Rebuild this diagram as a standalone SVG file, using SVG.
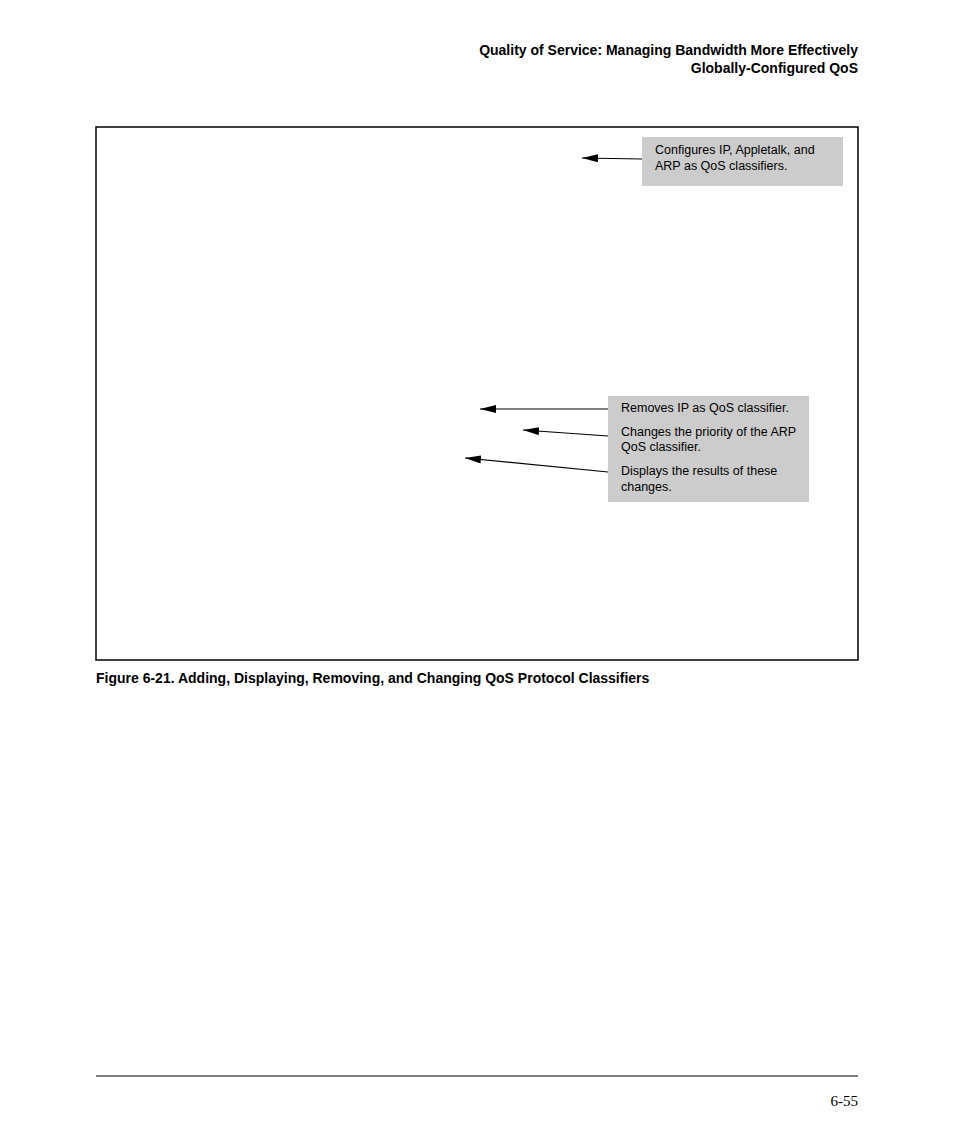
<svg xmlns="http://www.w3.org/2000/svg" width="954" height="1145" viewBox="0 0 954 1145">
<style>
.h{font-family:"Liberation Sans Narrow","Liberation Sans",Arial,sans-serif;font-weight:bold;font-size:14px;fill:#000}
.c{font-family:"Liberation Sans Narrow","Liberation Sans",Arial,sans-serif;font-size:12.5px;fill:#000}
.box{fill:#cccccc}
.ln{stroke:#000;stroke-width:1.2;fill:none;marker-end:url(#a)}
</style>
<defs><marker id="a" markerWidth="16" markerHeight="8" refX="16" refY="4" orient="auto" markerUnits="userSpaceOnUse"><path d="M0,0 L16,4 L0,8 Z" fill="#000"/></marker></defs>
<rect width="954" height="1145" fill="#fff"/>
<text class="h" x="858" y="55" text-anchor="end">Quality of Service: Managing Bandwidth More Effectively</text>
<text class="h" x="858" y="73" text-anchor="end">Globally-Configured QoS</text>
<rect x="96" y="127" width="762" height="533" fill="none" stroke="#000" stroke-width="1.5"/>
<g id="note1"><rect class="box" x="642" y="137" width="201" height="49"/>
<text class="c" x="655" y="154">Configures IP, Appletalk, and</text>
<text class="c" x="655" y="170">ARP as QoS classifiers.</text></g>
<g id="note2"><rect class="box" x="608" y="396" width="201" height="106"/>
<text class="c" x="621" y="412">Removes IP as QoS classifier.</text>
<text class="c" x="621" y="436">Changes the priority of the ARP</text>
<text class="c" x="621" y="451">QoS classifier.</text>
<text class="c" x="621" y="475">Displays the results of these</text>
<text class="c" x="621" y="491">changes.</text></g>
<g id="connectors">
<line class="ln" x1="642" y1="159" x2="582" y2="158"/>
<line class="ln" x1="608" y1="409" x2="480" y2="409"/>
<line class="ln" x1="608" y1="436" x2="523" y2="430"/>
<line class="ln" x1="608" y1="472" x2="465" y2="458"/>
</g>
<text class="h" x="96" y="683">Figure 6-21.  Adding, Displaying, Removing, and Changing QoS Protocol Classifiers</text>
<line x1="96" y1="1076" x2="858" y2="1076" stroke="#000" stroke-width="1"/>
<text x="858" y="1106" text-anchor="end" style="font-family:'Liberation Serif',serif;font-size:15px">6-55</text>
</svg>
